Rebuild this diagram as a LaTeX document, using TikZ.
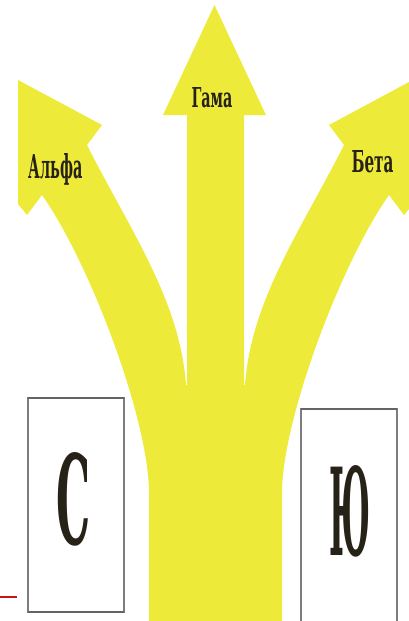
\documentclass[tikz,border=0pt]{standalone}
\usepackage{fontspec}
\usepackage{graphicx}
\newfontfamily\twfont{DejaVu Serif}
\definecolor{arrowyellow}{RGB}{238,234,58}
\definecolor{inkdark}{RGB}{38,34,24}
\definecolor{boxgray}{RGB}{125,125,125}
\definecolor{markred}{RGB}{200,20,20}
\newcommand\arrowlbl[3]{\resizebox{#1pt}{#2pt}{\twfont\bfseries #3}}
\begin{document}
\begin{tikzpicture}[x=1pt,y=-1pt,
  lbl/.style={inner sep=0pt,outer sep=0pt,text=inkdark,anchor=base},
  letterbox/.style={draw=boxgray,line width=1.1pt,fill=white},
  boxtop/.style={draw=boxgray!80!black,line width=1.8pt}]
\useasboundingbox (0,0) rectangle (409,621);
% yellow three-way arrow
\fill[arrowyellow]
  (149,621) -- (149,493)
  .. controls (149,420) and (90,263) .. (42,195)
  -- (27,215) -- (18,204) -- (18,80) -- (102,125) -- (87,145)
  .. controls (130,230) and (180,300) .. (186,385)
  -- (187,385) -- (187,115) -- (163,115) -- (214.5,5) -- (266,115) -- (244,115) -- (244,385) -- (245,385)
  .. controls (251,300) and (301,230) .. (344,145)
  -- (329,125) -- (409,82) -- (409,209) -- (404,215) -- (389,195)
  .. controls (341,263) and (282,420) .. (282,493)
  -- (282,621) -- cycle;
% labels on the arrows
\node[lbl] (alfa) at (55.5,178) {\arrowlbl{54}{25}{Альфа}};
\node[lbl] (gama) at (212,107) {\arrowlbl{41}{20}{Гама}};
\node[lbl] (beta) at (372.5,172) {\arrowlbl{42}{22}{Бета}};
% letter boxes
\draw[letterbox] (28,398) rectangle (124,612);
\draw[boxtop] (28,398) -- (124,398);
\draw[boxtop] (28,612) -- (124,612);
\draw[letterbox] (301,409) rectangle (397,625);
\draw[boxtop] (301,409) -- (397,409);
\node[lbl] (es) at (74,544) {\arrowlbl{34}{92}{С}};
\node[lbl] (yu) at (350,555) {\arrowlbl{41}{90}{Ю}};
% red mark
\coordinate (redA) at (0,597);
\coordinate (redB) at (17,597);
\draw[markred,line width=1.6pt] (redA) -- (redB);
\end{tikzpicture}
\end{document}
